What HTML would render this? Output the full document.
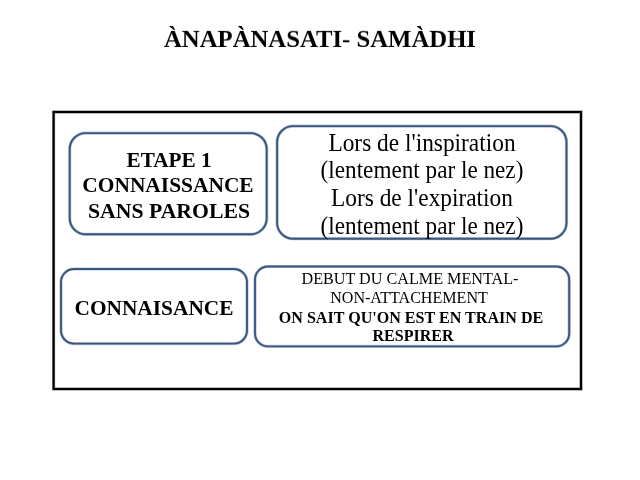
<!DOCTYPE html>
<html><head><meta charset="utf-8"><style>
html,body{margin:0;padding:0;background:#fff;width:640px;height:480px;overflow:hidden}
.t{position:absolute;text-align:center;white-space:nowrap;font-family:"Liberation Serif",serif;color:#000;will-change:transform}
</style></head><body>
<svg width="640" height="480" style="position:absolute;left:0;top:0"><rect x="53.6" y="112" width="527.4" height="277" rx="0" fill="none" stroke="#000" stroke-width="3.2" stroke-opacity="0.3"/><rect x="53.6" y="112" width="527.4" height="277" rx="0" fill="none" stroke="#000" stroke-width="2.2"/><rect x="69.7" y="133.1" width="197" height="101.2" rx="16" fill="none" stroke="#3a5780" stroke-width="3.2" stroke-opacity="0.35"/><rect x="69.7" y="133.1" width="197" height="101.2" rx="16" fill="none" stroke="#3a5780" stroke-width="1.9"/><rect x="277.1" y="126.1" width="289.4" height="112.6" rx="16" fill="none" stroke="#3a5780" stroke-width="3.2" stroke-opacity="0.35"/><rect x="277.1" y="126.1" width="289.4" height="112.6" rx="16" fill="none" stroke="#3a5780" stroke-width="1.9"/><rect x="61" y="269" width="186" height="74.6" rx="13" fill="none" stroke="#3a5780" stroke-width="3.2" stroke-opacity="0.35"/><rect x="61" y="269" width="186" height="74.6" rx="13" fill="none" stroke="#3a5780" stroke-width="1.9"/><rect x="255" y="266.5" width="314.2" height="79.9" rx="13" fill="none" stroke="#3a5780" stroke-width="3.2" stroke-opacity="0.35"/><rect x="255" y="266.5" width="314.2" height="79.9" rx="13" fill="none" stroke="#3a5780" stroke-width="1.9"/></svg>
<div class="t" style="left:59.69px;width:520px;top:26.45px;transform:scaleY(0.95);transform-origin:50% 20.85px;font-size:24.728px;line-height:25px;font-weight:bold">ÀNAPÀNASATI- SAMÀDHI</div>
<div class="t" style="left:-91.02px;width:520px;top:149.84px;font-size:21.203px;line-height:21px;font-weight:bold">ETAPE 1</div>
<div class="t" style="left:-91.78px;width:520px;top:174.67px;font-size:21.429px;line-height:21px;font-weight:bold">CONNAISSANCE</div>
<div class="t" style="left:-90.77px;width:520px;top:199.87px;font-size:21.721px;line-height:22px;font-weight:bold">SANS PAROLES</div>
<div class="t" style="left:161.65px;width:520px;top:131.82px;transform:scaleY(1.045);transform-origin:50% 19.38px;font-size:23.362px;line-height:23px;font-weight:normal">Lors de l'inspiration</div>
<div class="t" style="left:161.93px;width:520px;top:158.77px;transform:scaleY(1.045);transform-origin:50% 19.33px;font-size:23.196px;line-height:23px;font-weight:normal">(lentement par le nez)</div>
<div class="t" style="left:161.75px;width:520px;top:186.82px;transform:scaleY(1.045);transform-origin:50% 19.38px;font-size:23.362px;line-height:23px;font-weight:normal">Lors de l'expiration</div>
<div class="t" style="left:161.93px;width:520px;top:214.87px;transform:scaleY(1.045);transform-origin:50% 19.33px;font-size:23.196px;line-height:23px;font-weight:normal">(lentement par le nez)</div>
<div class="t" style="left:-106.36px;width:520px;top:297.89px;font-size:21.351px;line-height:21px;font-weight:bold">CONNAISANCE</div>
<div class="t" style="left:149.66px;width:520px;top:270.64px;font-size:16.179px;line-height:16px;font-weight:normal">DEBUT DU CALME MENTAL-</div>
<div class="t" style="left:149.23px;width:520px;top:289.87px;font-size:16.09px;line-height:16px;font-weight:normal">NON-ATTACHEMENT</div>
<div class="t" style="left:151.48px;width:520px;top:309.77px;font-size:16.094px;line-height:16px;font-weight:bold">ON SAIT QU'ON EST EN TRAIN DE</div>
<div class="t" style="left:152.93px;width:520px;top:327.79px;font-size:16.016px;line-height:16px;font-weight:bold">RESPIRER</div>
</body></html>
